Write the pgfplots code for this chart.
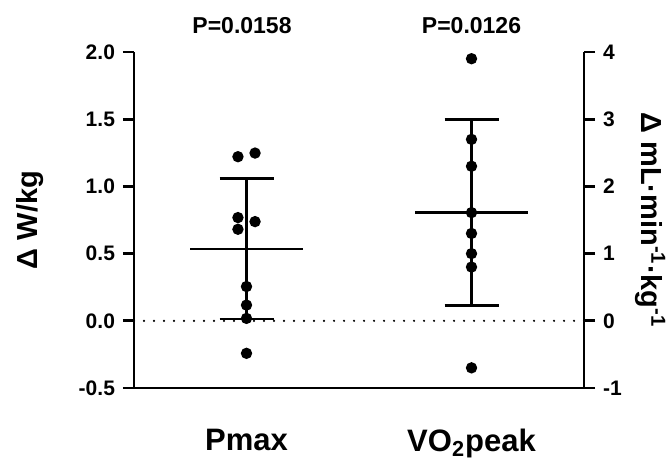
\documentclass[border=0pt]{standalone}
\usepackage{fontspec}
\setmainfont{Liberation Sans}
\usepackage{pgfplots}
\pgfplotsset{compat=1.18}

\begin{document}
\begin{tikzpicture}
\path[use as bounding box] (-67pt,-36.5pt) rectangle (269pt,194pt);
\pgfplotsset{
  every axis/.append style={
    width=225pt, height=168pt, scale only axis,
    at={(0,0)}, anchor=south west,
    line width=1.4pt,
    xmin=-0.5, xmax=1.5,
    tick align=outside, major tick length=5.5pt,
    tick style={line width=1.4pt, black},
    ticklabel style={font=\fontsize{10.5}{12}\selectfont\bfseries},
    /pgf/number format/assume math mode=true,
    axis line style={-},
    label style={font=\fontsize{14.5}{17}\selectfont\bfseries},
    clip=false,
  },
}
% left axis: Pmax, W/kg
\begin{axis}[
  ymin=-0.5, ymax=2,
  axis x line*=bottom, axis y line*=left,
  ytick={-0.5,0,0.5,1,1.5,2},
  yticklabel style={/pgf/number format/.cd, fixed, fixed zerofill, precision=1},
  xtick={0,1}, xticklabels={Pmax, VO\textsubscript{2}peak},
  x tick style={draw=none},
  xticklabel style={font=\fontsize{15.5}{18}\selectfont\bfseries, yshift=-11pt},
  ylabel={Δ W/kg},
  ylabel style={at={(axis description cs:-0.231,0.5)}, anchor=center},
]
\addplot[black, line width=1.2pt, line cap=round, dash pattern=on 0pt off 5pt] coordinates {(-0.5,0) (1.5,0)};
% mean and SD
\addplot[black] coordinates {(-0.25,0.534) (0.25,0.534)};
\addplot[black] coordinates {(0,0.013) (0,1.06)};
\addplot[black] coordinates {(-0.12,1.06) (0.12,1.06)};
\addplot[black] coordinates {(-0.12,0.013) (0.12,0.013)};
% individual values
\addplot[only marks, mark=*, mark size=2.1pt, black] coordinates {
  (-0.038,1.221) (0.038,1.248)
  (-0.038,0.768) (0.038,0.738) (-0.038,0.681)
  (0,0.255) (0,0.117) (0,0.018) (0,-0.242)
};
\node[font=\fontsize{11.5}{13}\selectfont\bfseries] at (axis cs:-0.02,2.2) {P=0.0158};
\node[font=\fontsize{11.5}{13}\selectfont\bfseries] at (axis cs:1,2.2) {P=0.0126};
\end{axis}
% right axis: VO2peak, mL/min/kg
\begin{axis}[
  ymin=-1, ymax=4,
  axis y line*=right, axis x line=none,
  ytick={-1,0,1,2,3,4},
  ylabel={Δ mL·min\textsuperscript{-1}·kg\textsuperscript{-1}},
  ylabel style={at={(axis description cs:1.147,0.5)}, rotate=180, anchor=center},
]
\addplot[black] coordinates {(0.75,1.61) (1.25,1.61)};
\addplot[black] coordinates {(1,0.23) (1,3.0)};
\addplot[black] coordinates {(0.88,3.0) (1.12,3.0)};
\addplot[black] coordinates {(0.88,0.23) (1.12,0.23)};
\addplot[only marks, mark=*, mark size=2.1pt, black] coordinates {
  (1,3.90) (1,2.70) (1,2.30) (1,1.61) (1,1.30) (1,1.00) (1,0.80) (1,-0.70)
};
\end{axis}
\end{tikzpicture}
\end{document}
